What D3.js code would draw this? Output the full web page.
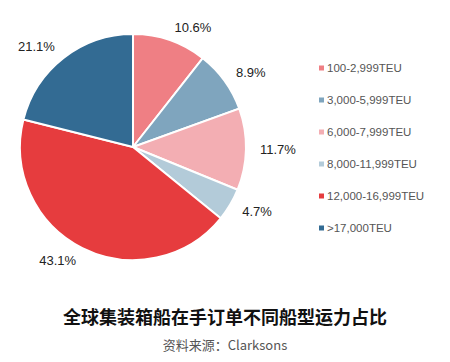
<!DOCTYPE html>
<html>
<head>
<meta charset="utf-8">
<script src="https://cdn.jsdelivr.net/npm/d3@7"></script>
<style>
  body { margin: 0; background: #fff; }
</style>
</head>
<body>
<div id="chart"></div>
<script>
const categories = ["100-2,999TEU", "3,000-5,999TEU", "6,000-7,999TEU", "8,000-11,999TEU", "12,000-16,999TEU", ">17,000TEU"];
const shares = [10.6, 8.9, 11.7, 4.7, 43.1, 21.1];
const colors = ["#ef7f84", "#7fa5be", "#f3aeb3", "#b3cbd9", "#e63c3e", "#336b93"];

const w = 450,
      h = 362;

const cx = 133, cy = 147, r = 113;

const svg = d3.select("#chart")
  .append("svg")
  .attr("width", w)
  .attr("height", h)
  .style("font-family", "'Liberation Sans', Arial, sans-serif");

const data = categories.map((c, i) => ({name: c, value: shares[i], color: colors[i]}));

const pie = d3.pie()
  .sort(null)
  .value(d => d.value);

const arc = d3.arc()
  .innerRadius(0)
  .outerRadius(r);

// labels sit just outside the rim, anchored away from the pie
const labelArc = d3.arc()
  .innerRadius(r + 14)
  .outerRadius(r + 14);

const g = svg.append("g")
  .attr("transform", "translate(" + cx + "," + cy + ")");

const arcs = pie(data);

g.selectAll("path")
  .data(arcs)
  .enter()
  .append("path")
  .attr("d", arc)
  .attr("fill", d => d.data.color)
  .attr("stroke", "#fff")
  .attr("stroke-width", 2);

g.selectAll("text.pct")
  .data(arcs)
  .enter()
  .append("text")
  .attr("class", "pct")
  .attr("transform", d => "translate(" + labelArc.centroid(d) + ")")
  .attr("text-anchor", d => (d.startAngle + d.endAngle) / 2 < Math.PI ? "start" : "end")
  .attr("dy", "0.35em")
  .style("font-size", "13px")
  .style("fill", "#222")
  .text(d => d.data.value.toFixed(1) + "%");

// legend
const legend = svg.append("g")
  .attr("transform", "translate(319, 68)");

const row = legend.selectAll("g")
  .data(data)
  .enter()
  .append("g")
  .attr("transform", (d, i) => "translate(0," + i * 32 + ")");

row.append("rect")
  .attr("x", 0)
  .attr("y", -2.5)
  .attr("width", 5)
  .attr("height", 5)
  .attr("fill", d => d.color);

row.append("text")
  .attr("x", 8)
  .attr("dy", "0.35em")
  .style("font-size", "11.5px")
  .style("fill", "#555")
  .text(d => d.name);

svg.append("text")
  .attr("x", w / 2)
  .attr("y", 318)
  .attr("dy", "0.35em")
  .attr("text-anchor", "middle")
  .style("font-family", "'Noto Sans CJK SC', sans-serif")
  .style("font-weight", "bold")
  .style("font-size", "18px")
  .style("fill", "#111")
  .text("全球集装箱船在手订单不同船型运力占比");

svg.append("text")
  .attr("x", w / 2)
  .attr("y", 345)
  .attr("dy", "0.35em")
  .attr("text-anchor", "middle")
  .style("font-family", "'Noto Sans CJK SC', sans-serif")
  .style("font-size", "13px")
  .style("fill", "#555")
  .text("资料来源：Clarksons");
</script>
</body>
</html>
